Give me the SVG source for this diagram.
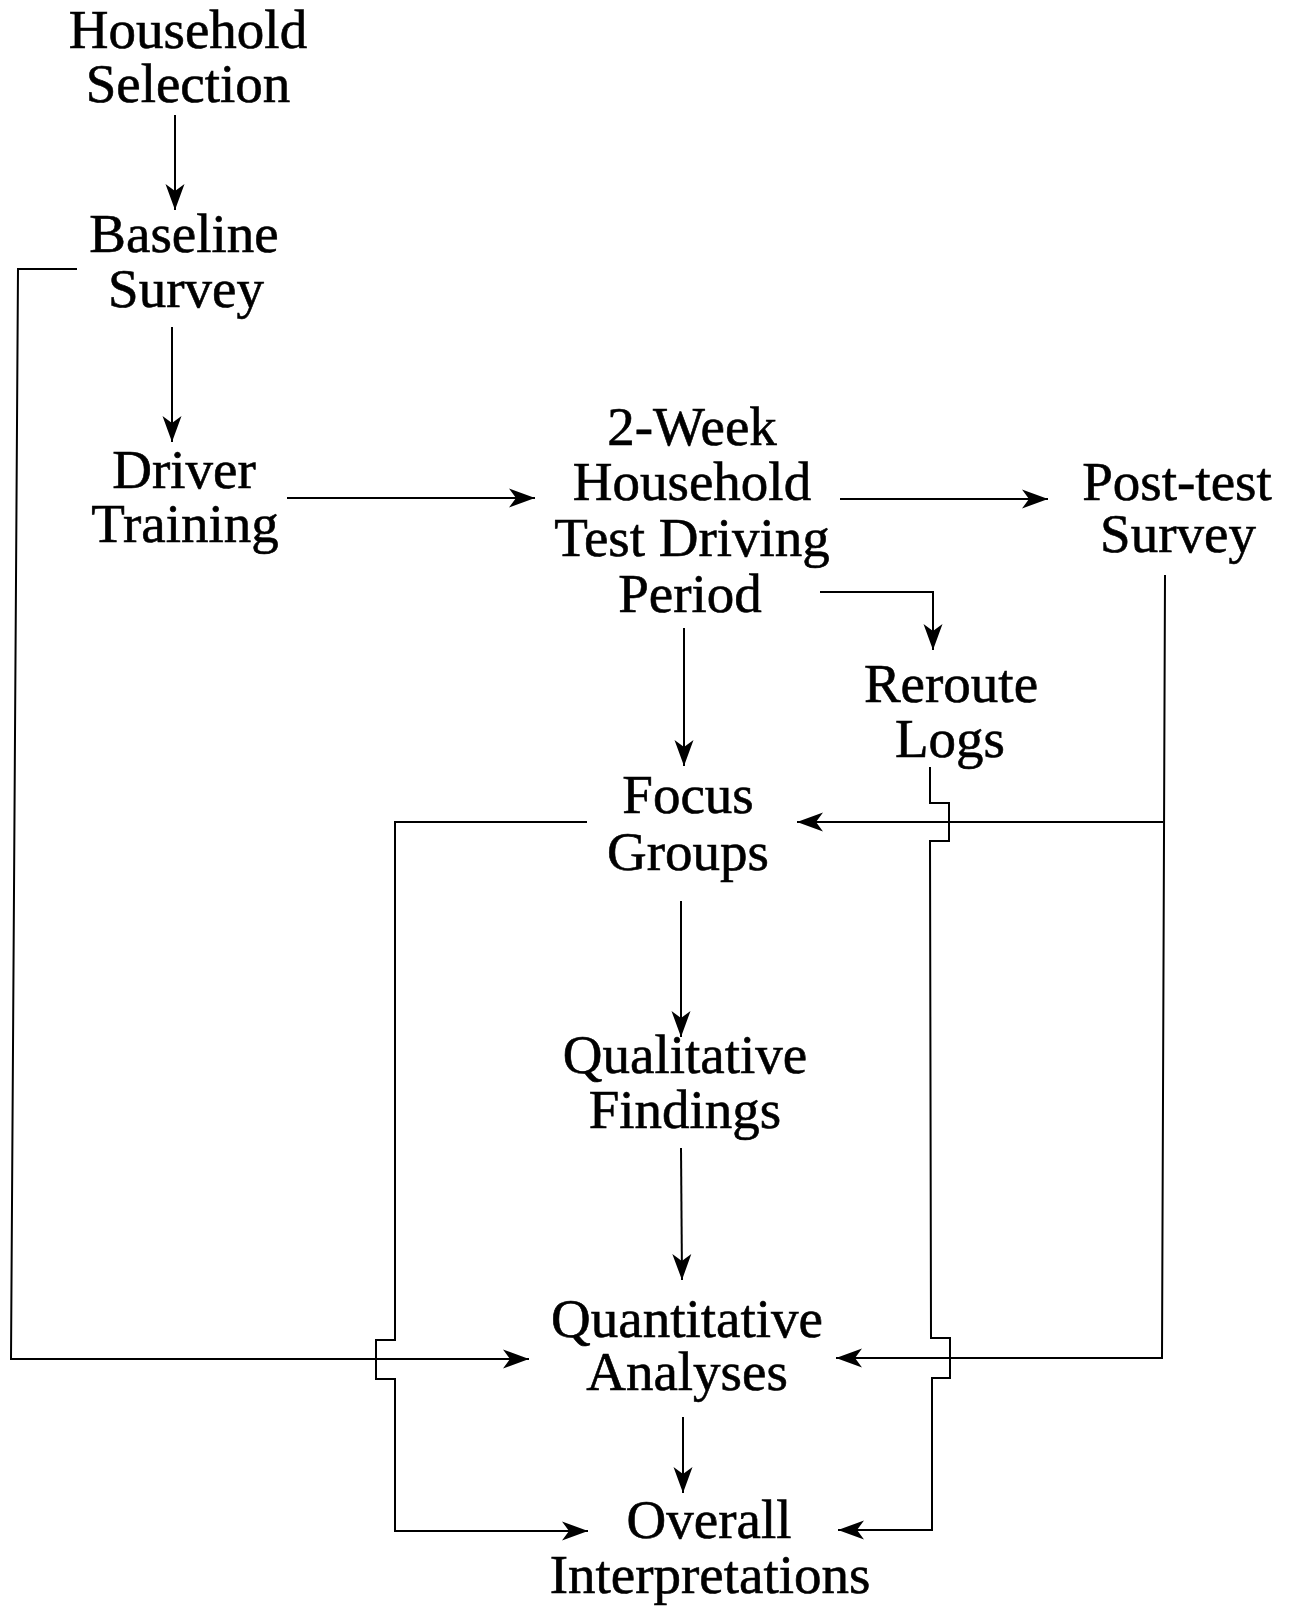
<svg xmlns="http://www.w3.org/2000/svg" width="1290" height="1607" viewBox="0 0 1290 1607">
<style>
.t{font-family:"Liberation Serif","Times New Roman",serif;font-size:55px;fill:#000;stroke:#000;stroke-width:0.6;text-anchor:middle}
.c{fill:none;stroke:#000;stroke-width:2}
.a{marker-end:url(#ah)}
</style>
<defs>
<marker id="ah" markerUnits="userSpaceOnUse" markerWidth="30" markerHeight="24" viewBox="-27 -12 30 24" refX="0" refY="0" orient="auto">
<path d="M0,0 L-26,-9.5 L-19,0 L-26,9.5 Z" fill="#000"/>
</marker>
</defs>
<rect width="1290" height="1607" fill="#fff"/>
<g id="connectors">
<path class="c a" d="M175,115 L175,210"/>
<path class="c a" d="M172,327 L172,442"/>
<path class="c a" d="M287,498 L535,498"/>
<path class="c a" d="M840,499 L1048,499"/>
<path class="c a" d="M820,592 L933,592 L933,650"/>
<path class="c a" d="M684,628 L684,766"/>
<path class="c a" d="M681,901 L681,1037"/>
<path class="c a" d="M681,1148 L682,1280"/>
<path class="c a" d="M683,1417 L683,1493"/>
<path class="c a" d="M77,269 L18,269 L11,1359 L529,1359"/>
<path class="c a" d="M587,822 L395,822 L395,1340 L376,1340 L376,1379 L395,1379 L395,1531 L588,1531"/>
<path class="c a" d="M1165,575 L1162,1358 L836,1358"/>
<path class="c a" d="M1163,822 L797,822"/>
<path class="c a" d="M930,767 L930,803 L949,803 L949,841 L930,841 L931,1338 L950,1338 L950,1378 L932,1378 L932,1530 L838,1530"/>
</g>
<g id="household-selection"><text class="t" x="188" y="48">Household</text><text class="t" x="188" y="102">Selection</text></g>
<g id="baseline-survey"><text class="t" x="184" y="252">Baseline</text><text class="t" x="186" y="307">Survey</text></g>
<g id="driver-training"><text class="t" x="184" y="488">Driver</text><text class="t" x="185" y="542">Training</text></g>
<g id="test-driving"><text class="t" x="692" y="445">2-Week</text><text class="t" x="692" y="500">Household</text><text class="t" x="692" y="556">Test Driving</text><text class="t" x="690" y="612">Period</text></g>
<g id="post-test-survey"><text class="t" x="1177" y="500">Post-test</text><text class="t" x="1178" y="552">Survey</text></g>
<g id="reroute-logs"><text class="t" x="951" y="702">Reroute</text><text class="t" x="950" y="757">Logs</text></g>
<g id="focus-groups"><text class="t" x="688" y="813">Focus</text><text class="t" x="688" y="870">Groups</text></g>
<g id="qualitative-findings"><text class="t" x="685" y="1073">Qualitative</text><text class="t" x="685" y="1128">Findings</text></g>
<g id="quantitative-analyses"><text class="t" x="687" y="1337">Quantitative</text><text class="t" x="687" y="1390">Analyses</text></g>
<g id="overall-interpretations"><text class="t" x="709" y="1538">Overall</text><text class="t" x="710" y="1593">Interpretations</text></g>
</svg>
